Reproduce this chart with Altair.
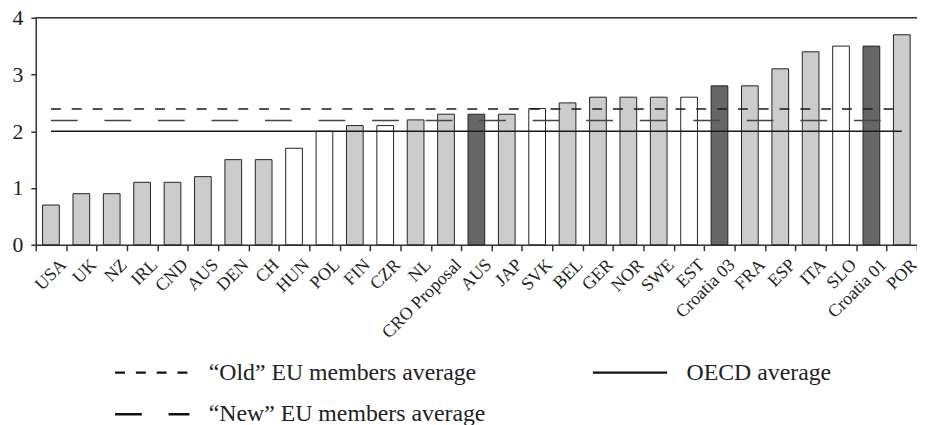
import json
import altair as alt
import pandas as pd

# ---- data ----
countries = ["USA", "UK", "NZ", "IRL", "CND", "AUS", "DEN", "CH", "HUN", "POL",
             "FIN", "CZR", "NL", "CRO Proposal", "AUS", "JAP", "SVK", "BEL", "GER",
             "NOR", "SWE", "EST", "Croatia 03", "FRA", "ESP", "ITA", "SLO",
             "Croatia 01", "POR"]
values = [0.7, 0.9, 0.9, 1.1, 1.1, 1.2, 1.5, 1.5, 1.7, 2.0,
          2.1, 2.1, 2.2, 2.3, 2.3, 2.3, 2.4, 2.5, 2.6,
          2.6, 2.6, 2.6, 2.8, 2.8, 3.1, 3.4, 3.5,
          3.5, 3.7]
groups = ["g", "g", "g", "g", "g", "g", "g", "g", "w", "w",
          "g", "w", "g", "g", "d", "g", "w", "g", "g",
          "g", "g", "w", "d", "g", "g", "g", "w",
          "d", "g"]

# legend order is column-major: Old, New in column 1; OECD in column 2
avg_labels = ["\u201cOld\u201d EU members average",
              "\u201cNew\u201d EU members average", "OECD average"]
avg_values = [2.39, 2.19, 2.0]
avg_dashes = [[10, 11], [27, 27], [1, 0]]
avg_colors = ["#1a1a1a", "#444444", "#1a1a1a"]

bars = pd.DataFrame({"idx": list(range(len(countries))), "name": countries,
                     "value": values, "group": groups})
avgs = pd.DataFrame({"series": avg_labels, "value": avg_values,
                     "start": [0] * 3, "end": [len(countries) - 1] * 3})
top = pd.DataFrame({"v": [4]})

FONT = "Liberation Serif"
label_expr = json.dumps(countries) + "[datum.value]"

x_enc = alt.X("idx:O", sort=None,
              scale=alt.Scale(paddingInner=0, paddingOuter=0),
              axis=alt.Axis(title=None, labelExpr=label_expr, labelAngle=-45,
                            labelAlign="right", labelBaseline="top",
                            labelFontSize=18, labelFont=FONT, labelColor="#222",
                            labelPadding=5, labelOffset=6, tickBand="extent",
                            tickSize=6, tickColor="#333", tickWidth=1.5,
                            domainColor="#333", domainWidth=1.5))
y_scale = alt.Scale(domain=[0, 4], nice=False)

bar_layer = alt.Chart(bars).mark_bar(
    width=alt.RelativeBandSize(0.55), stroke="#222", strokeWidth=1
).encode(
    x=x_enc,
    y=alt.Y("value:Q", scale=y_scale,
            axis=alt.Axis(title=None, values=[0, 1, 2, 3, 4], format="d",
                          grid=False, labelFontSize=22, labelFont=FONT,
                          labelColor="#222", labelPadding=8, tickSize=5,
                          tickColor="#333", tickWidth=1.5, domainColor="#333",
                          domainWidth=1.5)),
    color=alt.Color("group:N", legend=None,
                    scale=alt.Scale(domain=["g", "w", "d"],
                                    range=["#cccccc", "#ffffff", "#666666"])),
)

rule_layer = alt.Chart(avgs).mark_rule(strokeWidth=1.5).encode(
    x=alt.X("start:O"),
    x2="end:O",
    y=alt.Y("value:Q", scale=y_scale),
    strokeDash=alt.StrokeDash(
        "series:N", title=None,
        scale=alt.Scale(domain=avg_labels, range=avg_dashes),
        legend=alt.Legend(orient="none", legendX=80, legendY=344, columns=2,
                          symbolType="M-3,0H3", symbolSize=625,
                          symbolStrokeWidth=2.5, symbolStrokeColor="#111",
                          symbolFillColor="transparent", symbolOffset=23.5,
                          labelOffset=43, labelFont=FONT, labelFontSize=24,
                          labelColor="#222", labelLimit=600, labelBaseline="middle",
                          columnPadding=103, rowPadding=16, padding=0),
    ),
    color=alt.Color("series:N", legend=None,
                    scale=alt.Scale(domain=avg_labels, range=avg_colors)),
)

top_rule = alt.Chart(top).mark_rule(color="#333", strokeWidth=1.5).encode(
    y=alt.Y("v:Q", scale=y_scale)
)

chart = alt.layer(bar_layer, rule_layer, top_rule).resolve_scale(
    color="independent"
).properties(
    width=889, height=229,
    padding={"left": 28, "top": 8, "right": 0, "bottom": 180},
    autosize="none",
).configure_view(stroke=None).configure(font=FONT)

chart.save("out.html", embed_options={"renderer": "svg", "actions": False})
